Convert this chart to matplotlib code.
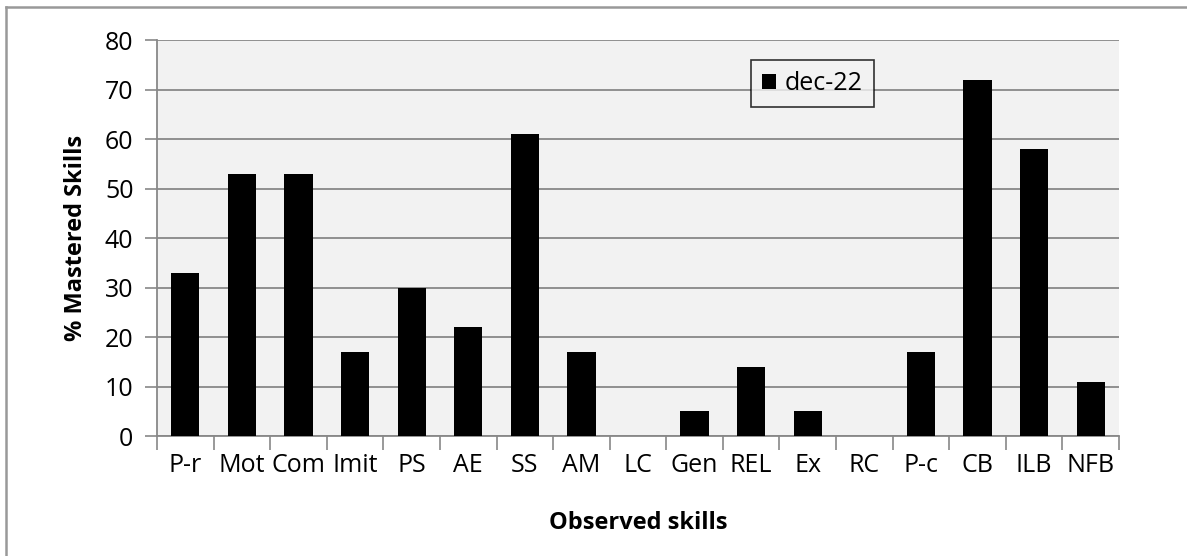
import matplotlib.pyplot as plt
from matplotlib.lines import Line2D

skills = ['P-r', 'Mot', 'Com', 'Imit', 'PS', 'AE', 'SS', 'AM', 'LC', 'Gen',
          'REL', 'Ex', 'RC', 'P-c', 'CB', 'ILB', 'NFB']
mastered = [33, 53, 53, 17, 30, 22, 61, 17, 0, 5, 14, 5, 0, 17, 72, 58, 11]

plt.rcParams['font.family'] = ['Open Sans', 'DejaVu Sans']

fig = plt.figure(figsize=(11.87, 5.56), dpi=100)
ax = fig.add_axes([0.1323, 0.2158, 0.8104, 0.712])
ax.set_facecolor('#f2f2f2')

x = range(len(skills))
ax.bar(x, mastered, width=0.5, color='black', label='dec-22', zorder=3)

ax.set_xlim(-0.5, len(skills) - 0.5)
ax.set_ylim(0, 80)
ax.set_yticks(range(0, 81, 10))
ax.set_xticks([i - 0.5 for i in range(len(skills) + 1)], minor=False)
ax.set_xticklabels([])
ax.set_xticks(list(x), minor=True)
ax.set_xticklabels(skills, minor=True)
ax.tick_params(axis='x', which='minor', length=0, pad=12, labelsize=18)
ax.tick_params(axis='x', which='major', length=10, color='#888888', width=1.2)
ax.tick_params(axis='y', length=9, color='#888888', width=1.2, labelsize=18, pad=8)
ax.grid(axis='y', color='#888888', linewidth=1.3, zorder=0)

for s in ['top', 'right']:
    ax.spines[s].set_visible(False)
for s in ['left', 'bottom']:
    ax.spines[s].set_color('#888888')
    ax.spines[s].set_linewidth(1.3)

ax.set_xlabel('Observed skills', fontsize=17, fontweight='bold', labelpad=24)
ax.set_ylabel('% Mastered Skills', fontsize=17, fontweight='bold', labelpad=12)

leg = ax.legend(loc='upper left', bbox_to_anchor=(0.617, 0.95), fontsize=18,
                frameon=True, fancybox=False, handlelength=0.55, handleheight=0.55,
                handletextpad=0.35, borderpad=0.45, borderaxespad=0)
leg.get_frame().set_edgecolor('black')
leg.get_frame().set_facecolor('#f2f2f2')
leg.get_frame().set_linewidth(1.2)

# outer frame: only the left and top edges are visible in the original
fig.add_artist(Line2D([0.005, 0.005], [0, 0.987], transform=fig.transFigure,
                      color='#999999', linewidth=1.8))
fig.add_artist(Line2D([0.005, 1], [0.987, 0.987], transform=fig.transFigure,
                      color='#999999', linewidth=1.8))

fig.savefig('out.png', dpi=100)
